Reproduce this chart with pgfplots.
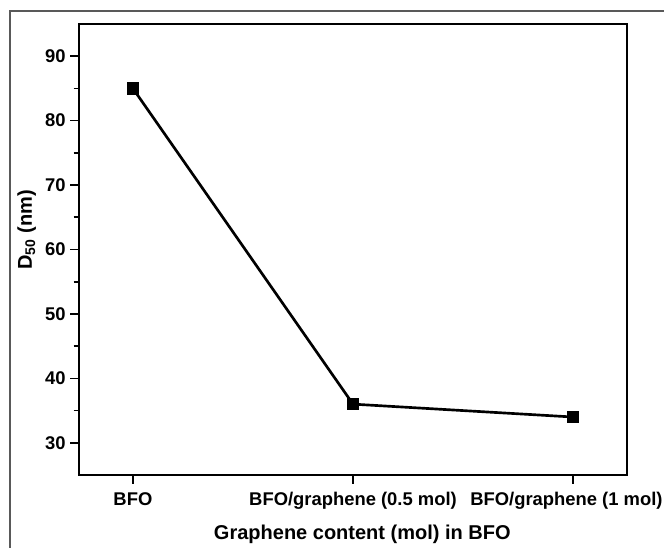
\documentclass[border=0pt]{standalone}
\usepackage{fontspec}
\setmainfont{Liberation Sans}
\usepackage{pgfplots}
\pgfplotsset{compat=1.18}
\begin{document}
\begin{tikzpicture}
% page area: 664 x 547 units of 0.75pt
\useasboundingbox (0pt,0pt) rectangle (498pt,410.25pt);
% thin frame round the figure
\draw[black!65, line width=0.9pt] (7.5pt,-1pt) -- (7.5pt,402pt) -- (499pt,402pt);
\begin{axis}[
  at={(59.25pt,54pt)}, anchor=south west,
  scale only axis, width=411pt, height=338.25pt,
  xmin=-0.245, xmax=2.245, ymin=25, ymax=95,
  xtick={0,1,2},
  xticklabels={BFO, BFO/graphene (0.5 mol), \hspace*{-10pt}BFO/graphene (1 mol)},
  ytick={30,40,...,90},
  minor ytick={35,45,...,85},
  tick pos=left, tick align=outside,
  major tick length=6.5pt, minor tick length=4pt,
  axis line style={line width=1.2pt},
  every tick/.style={black, line width=1.2pt},
  /pgf/number format/assume math mode=true,
  tick label style={font=\fontsize{13.8}{16}\bfseries\selectfont},
  label style={font=\fontsize{15}{17}\bfseries\selectfont},
  xlabel={Graphene content (mol) in BFO},
  ylabel={D\textsubscript{50} (nm)},
  xticklabel style={yshift=-3pt},
  xlabel style={yshift=-5pt, xshift=7pt},
  ylabel style={at={(ticklabel cs:0.543)}, yshift=0pt},
]
\addplot[black, line width=2pt, mark=square*, mark size=3.6pt,
         mark options={solid}] coordinates {
  (0,85) (1,36) (2,34)
};
\end{axis}
\end{tikzpicture}
\end{document}
